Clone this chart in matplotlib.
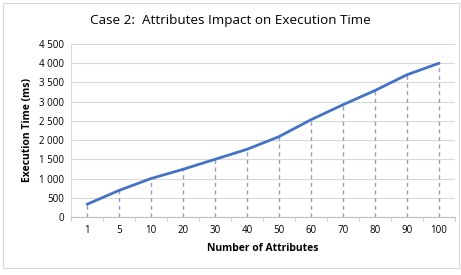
import matplotlib.pyplot as plt
from matplotlib.ticker import FuncFormatter, FixedLocator
from matplotlib.patches import Rectangle

attributes = ["1", "5", "10", "20", "30", "40", "50", "60", "70", "80", "90", "100"]
exec_time = [330, 690, 1000, 1240, 1500, 1760, 2090, 2530, 2920, 3290, 3700, 4000]

plt.rcParams['font.family'] = ['Open Sans', 'DejaVu Sans']

fig = plt.figure(figsize=(4.61, 2.75), dpi=100)
ax = fig.add_axes([0.154, 0.211, 0.833, 0.629])

# chart area border
fig.patches.append(Rectangle((0.006, 0.025), 0.99, 0.965, transform=fig.transFigure,
                             fill=False, edgecolor='#d9d9d9', linewidth=0.8))

pos = list(range(len(attributes)))
ax.vlines(pos, 0, exec_time, colors='#8fa2bf', linestyles=(0, (3, 2.5)), linewidth=1.0, zorder=2)
ax.plot(pos, exec_time, color='#4472C4', linewidth=2.0, solid_capstyle='round', zorder=3)

ax.set_xlim(-0.5, len(attributes) - 0.5)
ax.set_ylim(0, 4500)
ax.set_yticks(range(0, 4501, 500))
ax.yaxis.set_major_formatter(FuncFormatter(lambda v, p: f"{int(v):,}".replace(",", " ")))
ax.set_xticks(pos)
ax.set_xticklabels(attributes)
ax.xaxis.set_minor_locator(FixedLocator([p - 0.5 for p in pos] + [len(pos) - 0.5]))

ax.grid(axis='y', color='#d9d9d9', linewidth=0.8)
ax.set_axisbelow(True)
for s in ['top', 'right']:
    ax.spines[s].set_visible(False)
ax.spines['left'].set_color('#d9d9d9')
ax.spines['bottom'].set_color('#bfbfbf')
ax.tick_params(axis='x', which='major', length=0, labelsize=7, pad=6, colors='#000000')
ax.tick_params(axis='x', which='minor', length=3, color='#bfbfbf')
ax.tick_params(axis='y', length=0, labelsize=7, pad=5)

ax.set_xlabel("Number of Attributes", fontsize=7.5, fontweight='bold', labelpad=5)
ax.set_ylabel("Execution Time (ms)", fontsize=7.5, fontweight='bold', labelpad=4)
fig.text(0.5, 0.924, "Case 2:  Attributes Impact on Execution Time", ha='center', va='center', fontsize=9.7)

fig.savefig("out.png", dpi=100)
